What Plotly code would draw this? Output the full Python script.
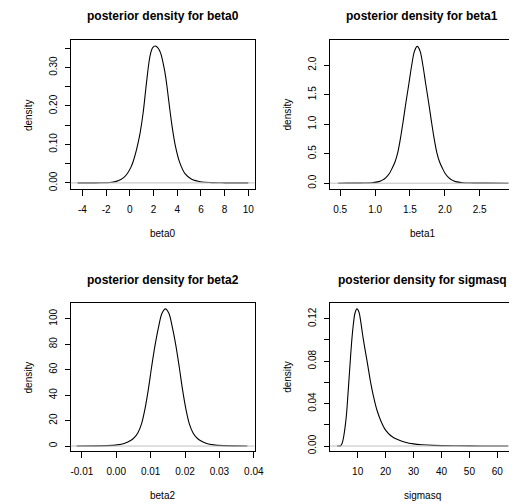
import plotly.graph_objects as go

W, H = 518, 504
FONT = "Liberation Sans, Arial, sans-serif"

# ---- posterior density estimates (x, density) ----
beta0_x = [-4.4, -3.2, -2.4, -1.69, -1.14, -0.75, -0.445, -0.15, 0.10, 0.30, 0.515, 0.70,
           0.88, 1.13, 1.345, 1.5, 1.625, 1.75, 1.9, 2.05, 2.18, 2.35, 2.5, 2.65, 2.87,
           3.0, 3.15, 3.34, 3.56, 3.84, 4.2, 4.66, 5.22, 6.05, 6.88, 8.0, 10.0]
beta0_d = [0.0, 0.0001, 0.0004, 0.001, 0.004, 0.009, 0.0155, 0.027, 0.041, 0.057, 0.080,
           0.104, 0.1315, 0.183, 0.243, 0.285, 0.315, 0.336, 0.350, 0.355, 0.356, 0.352,
           0.345, 0.333, 0.303, 0.281, 0.248, 0.200, 0.149, 0.097, 0.054, 0.024, 0.0094,
           0.0025, 0.0008, 0.0002, 0.0]

beta1_x = [0.47, 0.605, 0.805, 0.955, 1.055, 1.105, 1.155, 1.205, 1.245, 1.285, 1.325,
           1.365, 1.405, 1.445, 1.485, 1.525, 1.565, 1.605, 1.645, 1.685, 1.725, 1.765,
           1.805, 1.845, 1.885, 1.925, 1.965, 2.005, 2.055, 2.105, 2.155, 2.255, 2.405,
           2.605, 2.91]
beta1_d = [0.0, 0.0005, 0.002, 0.008, 0.027, 0.052, 0.095, 0.165, 0.255, 0.36, 0.52,
           0.77, 1.07, 1.39, 1.69, 2.00, 2.24, 2.32, 2.24, 2.00, 1.69, 1.39, 1.07, 0.77,
           0.52, 0.36, 0.255, 0.165, 0.095, 0.052, 0.027, 0.008, 0.002, 0.0005, 0.0]

beta2_x = [-0.0115, -0.0057, -0.0027, 0.0003, 0.0023, 0.0043, 0.0053, 0.0063, 0.0073,
           0.0083, 0.0093, 0.0103, 0.0113, 0.0123, 0.0133, 0.0143, 0.0153, 0.0163,
           0.0173, 0.0183, 0.0193, 0.0203, 0.0213, 0.0223, 0.0233, 0.0243, 0.0263,
           0.0283, 0.0313, 0.0343, 0.0381]
beta2_d = [0.0, 0.1, 0.3, 0.9, 2.0, 4.5, 6.8, 10.5, 17.0, 28.5, 44.0, 62.5, 79.5, 93.5,
           104.3, 107.8, 104.3, 93.5, 79.5, 62.5, 44.0, 28.5, 17.0, 10.5, 6.8, 4.5, 2.0,
           0.9, 0.3, 0.1, 0.0]

sigmasq_x = [2.66, 3.5, 4.0, 4.5, 5.0, 5.5, 6.0, 6.5, 7.0, 7.5, 8.0, 8.5, 9.0, 9.75,
             10.5, 11.0, 11.5, 12.0, 12.5, 13.5, 14.5, 15.6, 17.0, 18.5, 20.0, 22.0,
             24.5, 27.0, 30.0, 33.0, 37.0, 45.0, 55.0, 63.8]
sigmasq_d = [0.0, 0.0, 0.0005, 0.003, 0.009, 0.018, 0.030, 0.048, 0.067, 0.086, 0.103,
             0.116, 0.125, 0.1294, 0.126, 0.119, 0.110, 0.101, 0.093, 0.078, 0.062,
             0.0476, 0.033, 0.0225, 0.015, 0.0095, 0.0058, 0.0036, 0.002, 0.0012,
             0.0006, 0.0002, 0.00005, 0.0]

names = ["beta0", "beta1", "beta2", "sigmasq"]
xs = [beta0_x, beta1_x, beta2_x, sigmasq_x]
ds = [beta0_d, beta1_d, beta2_d, sigmasq_d]

# ---- axis ticks ----
x_ticks = [
    [-4, -2, 0, 2, 4, 6, 8, 10],
    [0.5, 1.0, 1.5, 2.0, 2.5, 3.0],
    [-0.01, 0.0, 0.01, 0.02, 0.03, 0.04],
    [10, 20, 30, 40, 50, 60],
]
x_ticktext = [
    ["-4", "-2", "0", "2", "4", "6", "8", "10"],
    ["0.5", "1.0", "1.5", "2.0", "2.5", "3.0"],
    ["-0.01", "0.00", "0.01", "0.02", "0.03", "0.04"],
    ["10", "20", "30", "40", "50", "60"],
]
y_ticks = [
    [0.0, 0.05, 0.10, 0.15, 0.20, 0.25, 0.30, 0.35],
    [0.0, 0.5, 1.0, 1.5, 2.0],
    [0, 20, 40, 60, 80, 100],
    [0.0, 0.02, 0.04, 0.06, 0.08, 0.10, 0.12],
]
y_ticktext = [
    ["0.00", "", "0.10", "", "0.20", "", "0.30", ""],
    ["0.0", "0.5", "1.0", "1.5", "2.0"],
    ["0", "20", "40", "60", "80", "100"],
    ["0.00", "", "0.04", "", "0.08", "", "0.12"],
]

# ---- axis ranges ----
x_ranges = [[-4.98, 10.52], [0.356, 2.92], [-0.01323, 0.0402], [0.15, 64.17]]
y_ranges = [[-0.0168, 0.3722], [-0.1045, 2.432], [-3.9, 112.5], [-0.0047, 0.135]]

# ---- panel boxes in pixels (left, right, top, bottom) ----
boxes = [
    (72, 259, 40, 190.5),
    (336, 518, 40, 190.5),
    (72, 259, 304.7, 453.7),
    (336, 518, 304.7, 453.7),
]
full_width = 187  # width of a complete panel box

fig = go.Figure()
layout = dict(
    width=W, height=H,
    margin=dict(l=0, r=0, t=0, b=0),
    paper_bgcolor="white", plot_bgcolor="white",
    showlegend=False,
    font=dict(family=FONT, size=10, color="black"),
)
annotations = []
shapes = []

for i in range(4):
    sfx = "" if i == 0 else str(i + 1)
    l, r, t, b = boxes[i]
    cropped = (r - l) < full_width
    layout["xaxis" + sfx] = dict(
        domain=[l / W, r / W], range=x_ranges[i],
        showgrid=False, zeroline=False,
        showline=True, mirror=True, linecolor="black", linewidth=1,
        ticks="outside", ticklen=6, tickwidth=1, tickcolor="black",
        tickvals=x_ticks[i], ticktext=x_ticktext[i],
        tickfont=dict(family=FONT, size=10, color="black"),
        ticklabelstandoff=5,
        anchor="y" + sfx, fixedrange=True,
    )
    layout["yaxis" + sfx] = dict(
        domain=[1 - b / H, 1 - t / H], range=y_ranges[i],
        showgrid=False, zeroline=False,
        showline=True, mirror=(not cropped), linecolor="black", linewidth=1,
        ticks="outside", ticklen=5, tickwidth=1, tickcolor="black",
        tickvals=y_ticks[i], ticktext=y_ticktext[i], tickangle=-90,
        tickfont=dict(family=FONT, size=10, color="black"),
        ticklabelstandoff=4,
        anchor="x" + sfx, fixedrange=True,
    )
    fig.add_trace(go.Scatter(
        x=xs[i], y=ds[i], mode="lines",
        line=dict(color="black", width=1.1, shape="spline", smoothing=0.9),
        xaxis="x" + sfx, yaxis="y" + sfx, hoverinfo="skip",
    ))
    # zero reference line across the plotting region
    shapes.append(dict(
        type="line", xref="x" + sfx + " domain", yref="y" + sfx,
        x0=0, x1=1, y0=0, y1=0, layer="above",
        line=dict(color="#bebebe", width=1),
    ))
    cx = (l + full_width / 2) / W
    annotations.append(dict(
        text="<b>posterior density for %s</b>" % names[i],
        x=cx, y=1 - (t - 23.5) / H, xref="paper", yref="paper",
        xanchor="center", yanchor="middle", showarrow=False,
        font=dict(family=FONT, size=12, color="black"),
    ))
    annotations.append(dict(
        text=names[i],
        x=cx, y=1 - (b + 44.5) / H, xref="paper", yref="paper",
        xanchor="center", yanchor="middle", showarrow=False,
        font=dict(family=FONT, size=10, color="black"),
    ))
    annotations.append(dict(
        text="density", textangle=-90,
        x=(l - 43) / W, y=1 - (t + b) / 2 / H, xref="paper", yref="paper",
        xanchor="center", yanchor="middle", showarrow=False,
        font=dict(family=FONT, size=10, color="black"),
    ))

layout["annotations"] = annotations
layout["shapes"] = shapes
fig.update_layout(**layout)
fig.write_html("out.html")
